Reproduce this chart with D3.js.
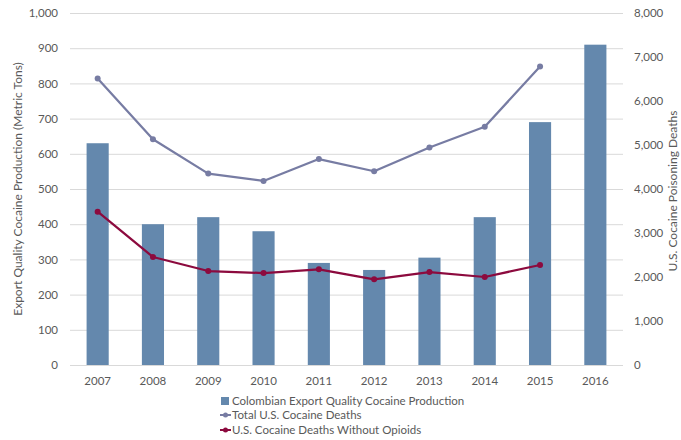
<!DOCTYPE html>
<html><head><meta charset="utf-8">
<script src="https://cdn.jsdelivr.net/npm/d3@7"></script>
<style>
html,body{margin:0;padding:0;background:#fff;}
text{font-family:Lato,"Open Sans",sans-serif;}
</style></head>
<body><svg id="c" width="681" height="440"></svg>
<script>
const years = ["2007","2008","2009","2010","2011","2012","2013","2014","2015","2016"];
const production = [630,400,420,380,290,270,305,420,690,910];
const totalDeaths = [6512,5129,4350,4183,4681,4404,4944,5415,6784,null];
const deathsNoOpioids = [3485,2455,2136,2090,2175,1947,2113,2000,2273,null];
const leftTicks = [0,100,200,300,400,500,600,700,800,900,1000];
const rightTicks = [0,1000,2000,3000,4000,5000,6000,7000,8000];
const seriesNames = ["Colombian Export Quality Cocaine Production","Total U.S. Cocaine Deaths","U.S. Cocaine Deaths Without Opioids"];
const colors = ["#6488ad","#777ca3","#8c0a3e"];

const svg = d3.select("#c");
const L=70, R=623, T=13, B=365;
const x = d3.scaleBand().domain(years).range([L,R]).paddingInner(0.6).paddingOuter(0.3);
const yL = d3.scaleLinear().domain([0,1000]).range([B,T]);
const yR = d3.scaleLinear().domain([0,8000]).range([B,T]);
const fmt = d3.format(",");
const txt = "#595959";

// gridlines
svg.append("g").selectAll("line").data(leftTicks).join("line")
  .attr("x1",L).attr("x2",R).attr("y1",d=>yL(d)+0.5).attr("y2",d=>yL(d)+0.5)
  .attr("stroke","#d9d9d9").attr("stroke-width",1);

// left axis
const gl = svg.append("g").attr("transform",`translate(${L-12},0)`)
  .call(d3.axisLeft(yL).tickValues(leftTicks).tickFormat(fmt).tickSize(0).tickPadding(0));
gl.select(".domain").remove();
gl.selectAll("text").attr("fill",txt).style("font-size","11.5px");

// right axis
const gr = svg.append("g").attr("transform",`translate(${R+11},0)`)
  .call(d3.axisRight(yR).tickValues(rightTicks).tickFormat(fmt).tickSize(0).tickPadding(0));
gr.select(".domain").remove();
gr.selectAll("text").attr("fill",txt).style("font-size","11.5px");

// x axis
const gx = svg.append("g").attr("transform",`translate(0,${B+12})`)
  .call(d3.axisBottom(x).tickSize(0).tickPadding(0));
gx.select(".domain").remove();
gx.selectAll("text").attr("fill",txt).style("font-size","11.5px");

// bars
svg.append("g").selectAll("rect").data(years).join("rect")
  .attr("x",d=>x(d)).attr("width",x.bandwidth())
  .attr("y",(d,i)=>yL(production[i])).attr("height",(d,i)=>B-yL(production[i]))
  .attr("fill",colors[0]);

// lines
function drawLine(vals,color){
  const pts = years.map((y,i)=>({y,v:vals[i]})).filter(p=>p.v!=null);
  const line = d3.line().x(p=>x(p.y)+x.bandwidth()/2).y(p=>yR(p.v));
  svg.append("path").datum(pts).attr("d",line).attr("fill","none")
    .attr("stroke",color).attr("stroke-width",2.25).attr("stroke-linejoin","round");
  svg.append("g").selectAll("circle").data(pts).join("circle")
    .attr("cx",p=>x(p.y)+x.bandwidth()/2).attr("cy",p=>yR(p.v)).attr("r",3)
    .attr("fill",color);
}
drawLine(totalDeaths,colors[1]);
drawLine(deathsNoOpioids,colors[2]);

// axis titles
svg.append("text").attr("transform",`translate(22,${(T+B)/2}) rotate(-90)`)
  .attr("text-anchor","middle").attr("fill",txt).style("font-size","12px")
  .text("Export Quality Cocaine Production (Metric Tons)");
svg.append("text").attr("transform",`translate(677,${(T+B)/2+2}) rotate(-90)`)
  .attr("text-anchor","middle").attr("fill",txt).style("font-size","12px")
  .text("U.S. Cocaine Poisoning Deaths");

// legend
const lg = svg.append("g");
const ly = [401,415,430];
lg.append("rect").attr("x",221).attr("y",ly[0]-4).attr("width",8).attr("height",8).attr("fill",colors[0]);
[1,2].forEach(i=>{
  lg.append("line").attr("x1",220).attr("x2",231).attr("y1",ly[i]).attr("y2",ly[i])
    .attr("stroke",colors[i]).attr("stroke-width",2);
  lg.append("circle").attr("cx",225.5).attr("cy",ly[i]).attr("r",2.5).attr("fill",colors[i]);
});
lg.selectAll("text.l").data(seriesNames).join("text").attr("class","l")
  .attr("x",232).attr("y",(d,i)=>ly[i]).attr("dy","0.35em")
  .attr("fill",txt).style("font-size","11.5px").text(d=>d);
</script></body></html>
